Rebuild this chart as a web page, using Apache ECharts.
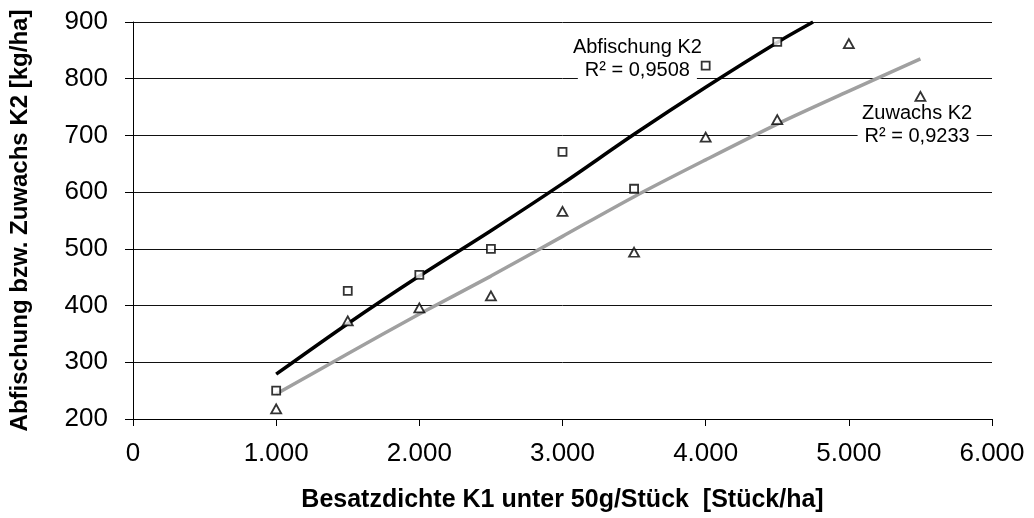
<!DOCTYPE html>
<html>
<head>
<meta charset="utf-8">
<script src="https://cdn.jsdelivr.net/npm/echarts@6/dist/echarts.min.js"></script>
<style>
  html, body { margin: 0; padding: 0; background: #fff; }
  #chart { width: 1034px; height: 518px; }
</style>
</head>
<body>
<div id="chart"></div>
<script>
// Stocking density (pieces/ha) and yields (kg/ha)
const abfischungDichte = [1000, 1500, 2000, 2500, 3000, 3500, 4000, 4500];
const abfischungWerte  = [250, 426, 454, 500, 671, 606, 823, 865];

const zuwachsDichte = [1000, 1500, 2000, 2500, 3000, 3500, 4000, 4500, 5000, 5500];
const zuwachsWerte  = [218, 373, 396, 417, 566, 494, 697, 728, 862, 769];

// Trend lines
const trendAbfX = [1000, 1500, 2000, 2500, 3000, 3500, 4000, 4500, 4750];
const trendAbfY = [279, 368, 452, 532, 615, 702, 785, 864, 900];
const trendZuwX = [1000, 1500, 2000, 2500, 3000, 3500, 4000, 4500, 5000, 5500];
const trendZuwY = [244, 315, 385, 452, 522, 592, 657, 720, 778, 835];

// Trend labels: [x, y, title, R²]
const labelAbf = [3523, 834, 'Abfischung K2', 'R² = 0,9508'];
const labelZuw = [5477, 719, 'Zuwachs K2', 'R² = 0,9233'];

const xTicks = [0, 6000, 1000];
const yTicks = [200, 900, 100];

const zip = (xs, ys) => xs.map((x, i) => [x, ys[i]]);
const fmtThousands = v => String(v).replace(/\B(?=(\d{3})+(?!\d))/g, '.');
const FONT = '"Liberation Sans", Arial, sans-serif';

function trendLabel(l) {
  return {
    silent: true,
    symbol: 'rect',
    symbolSize: 1,
    itemStyle: { color: 'rgba(0,0,0,0)' },
    data: [{ coord: [l[0], l[1]] }],
    label: {
      show: true,
      position: 'inside',
      align: 'center',
      verticalAlign: 'middle',
      formatter: '{a|' + l[2] + '}\n{b|' + l[3] + '}',
      rich: {
        a: { fontFamily: FONT, fontSize: 20, lineHeight: 23, color: '#000', align: 'center' },
        b: { fontFamily: FONT, fontSize: 20, lineHeight: 23, color: '#000', align: 'center',
             backgroundColor: '#fff', padding: [0, 7, 0, 7] }
      }
    }
  };
}

const chart = echarts.init(document.getElementById('chart'), null, { renderer: 'canvas' });
chart.setOption({
  animation: false,
  backgroundColor: '#fff',
  grid: { left: 132, right: 42, top: 22, bottom: 96, containLabel: false },
  xAxis: {
    type: 'value',
    min: xTicks[0], max: xTicks[1], interval: xTicks[2],
    name: 'Besatzdichte K1 unter 50g/Stück  [Stück/ha]',
    nameLocation: 'middle',
    nameGap: 69,
    nameTextStyle: { fontFamily: FONT, fontSize: 25, fontWeight: 'bold', color: '#000' },
    axisLine: { show: true, onZero: false, lineStyle: { color: '#000', width: 1 } },
    axisTick: { show: true, length: 7, lineStyle: { color: '#000' } },
    axisLabel: { fontFamily: FONT, fontSize: 26, color: '#000', margin: 22, formatter: fmtThousands },
    splitLine: { show: false }
  },
  yAxis: {
    type: 'value',
    min: yTicks[0], max: yTicks[1], interval: yTicks[2],
    name: 'Abfischung bzw. Zuwachs K2 [kg/ha]',
    nameLocation: 'middle',
    nameGap: 101,
    nameTextStyle: { fontFamily: FONT, fontSize: 24, fontWeight: 'bold', color: '#000' },
    axisLine: { show: true, lineStyle: { color: '#000', width: 1 } },
    axisTick: { show: true, length: 8, lineStyle: { color: '#000' } },
    axisLabel: { fontFamily: FONT, fontSize: 26, color: '#000', margin: 25 },
    splitLine: { show: true, lineStyle: { color: '#111', width: 1 } }
  },
  series: [
    {
      name: 'Trend Abfischung',
      type: 'line',
      data: zip(trendAbfX, trendAbfY),
      smooth: 0.3,
      symbol: 'none',
      lineStyle: { color: '#000', width: 3.5 },
      z: 3,
      markPoint: trendLabel(labelAbf)
    },
    {
      name: 'Trend Zuwachs',
      type: 'line',
      data: zip(trendZuwX, trendZuwY),
      smooth: 0.3,
      symbol: 'none',
      lineStyle: { color: '#a0a0a0', width: 3.5 },
      z: 3,
      markPoint: trendLabel(labelZuw)
    },
    {
      name: 'Abfischung K2',
      type: 'scatter',
      data: zip(abfischungDichte, abfischungWerte),
      symbol: 'rect',
      symbolSize: 8,
      itemStyle: { color: '#fff', borderColor: '#000', borderWidth: 1.8 },
      z: 4
    },
    {
      name: 'Zuwachs K2',
      type: 'scatter',
      data: zip(zuwachsDichte, zuwachsWerte),
      symbol: 'triangle',
      symbolSize: [10, 9],
      itemStyle: { color: '#fff', borderColor: '#000', borderWidth: 1.8 },
      z: 4
    }
  ]
});
</script>
</body>
</html>
